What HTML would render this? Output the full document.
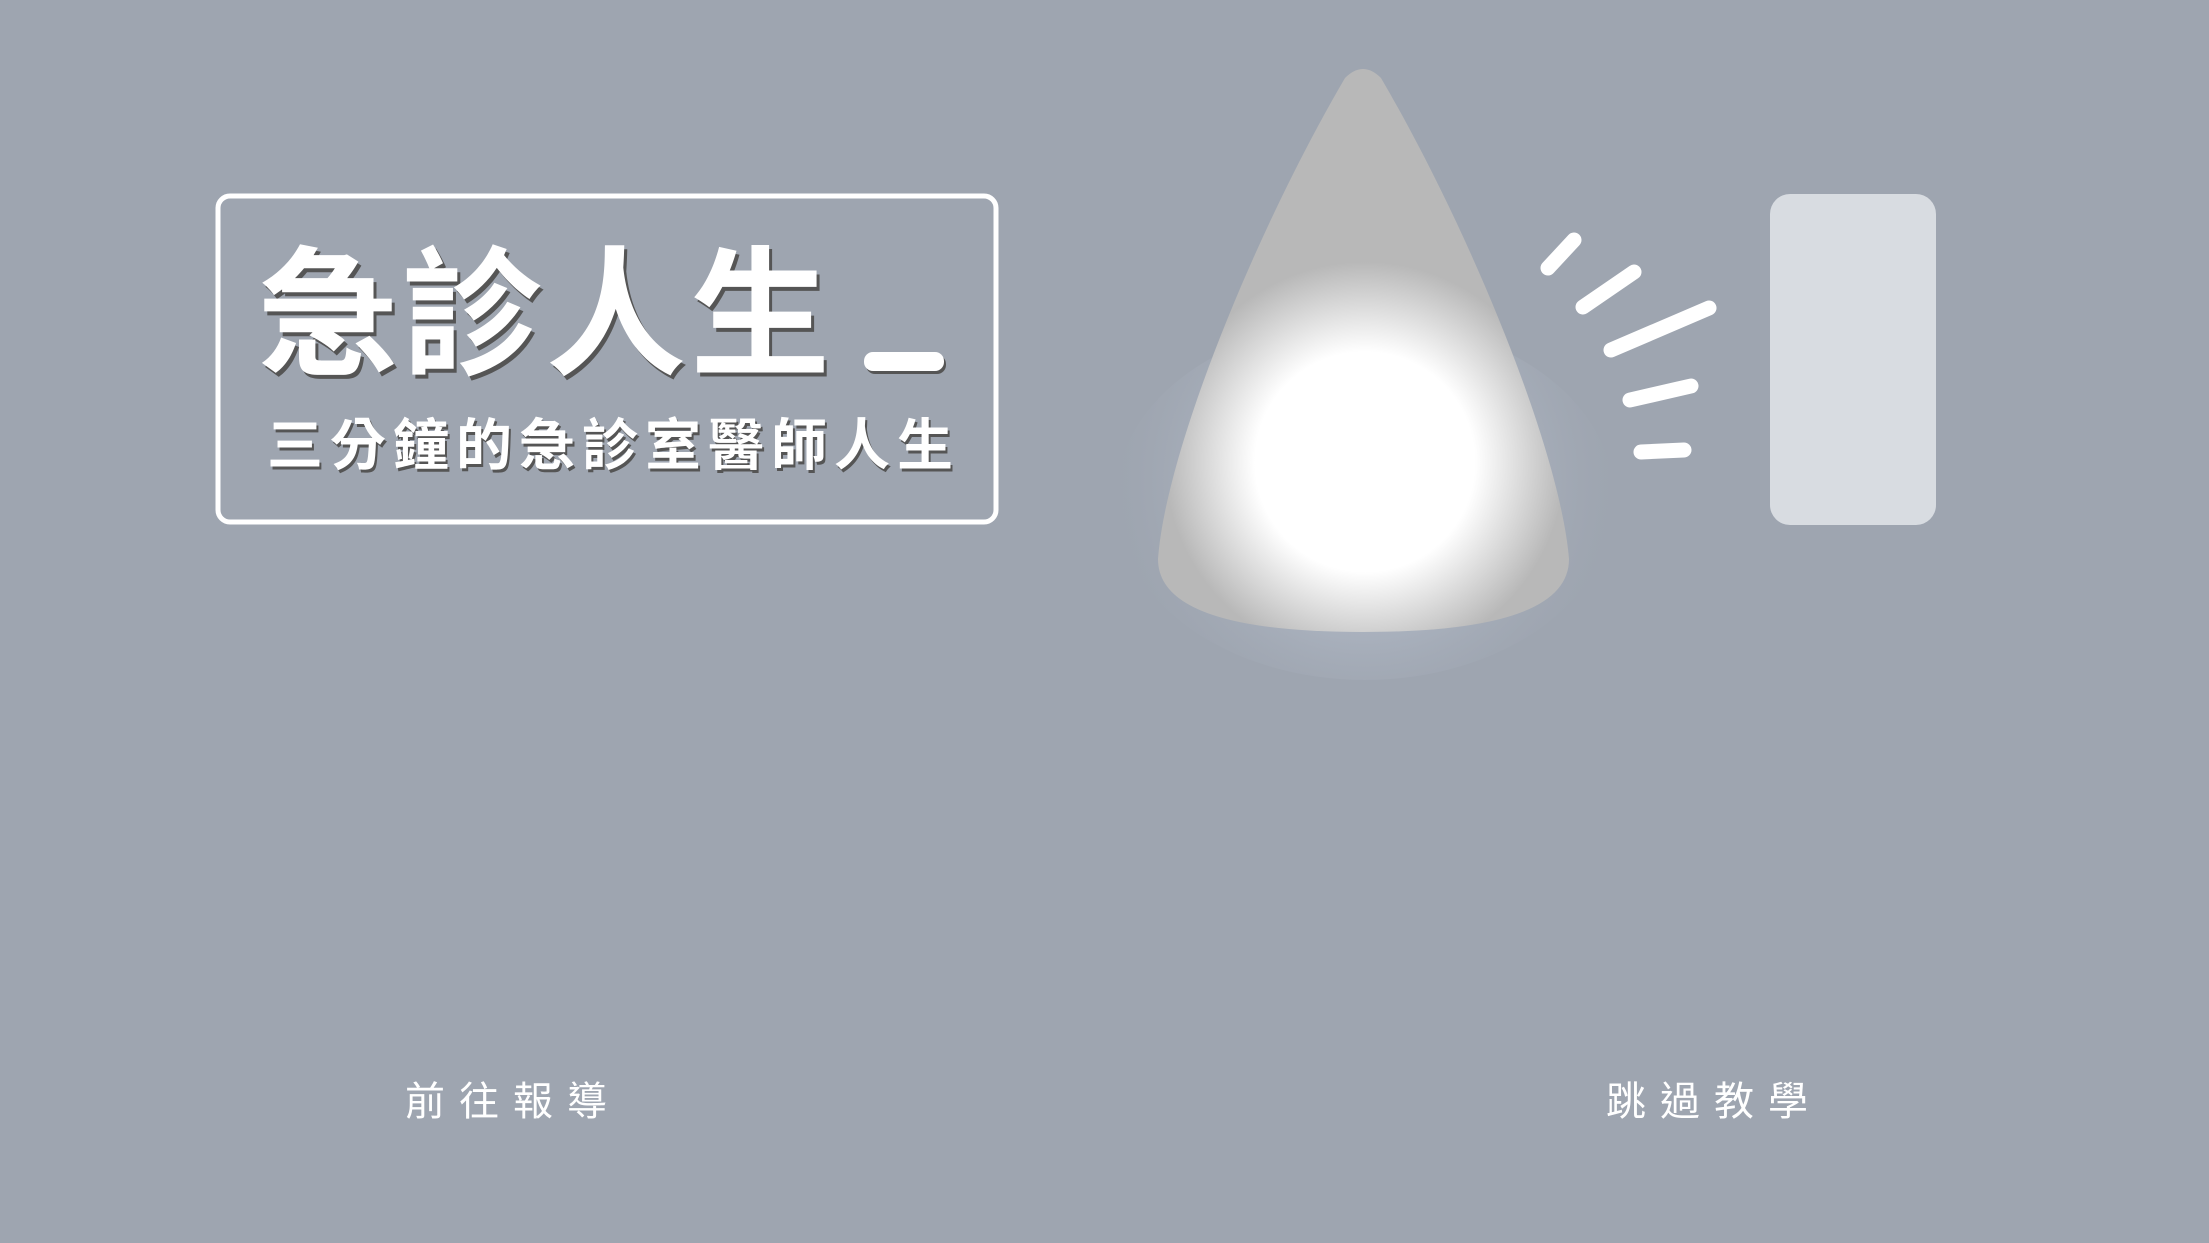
<!DOCTYPE html>
<html><head><meta charset="utf-8"><style>
html,body{margin:0;padding:0;}
body{width:2209px;height:1243px;background:#9ea5b0;position:relative;overflow:hidden;font-family:"Liberation Sans","Noto Sans CJK TC",sans-serif;}
.t{position:absolute;color:#fff;white-space:nowrap;line-height:1;}
</style></head><body>
<svg width="2209" height="1243" style="position:absolute;left:0;top:0">
<defs>
<radialGradient id="halo" cx="1365" cy="480" r="260" gradientUnits="userSpaceOnUse">
<stop offset="0" stop-color="#c0c7d2" stop-opacity="1"/>
<stop offset="0.6" stop-color="#b0b8c5" stop-opacity="0.6"/>
<stop offset="1" stop-color="#9ea5b0" stop-opacity="0"/>
</radialGradient>
<radialGradient id="glow" cx="1365" cy="462" r="200" gradientUnits="userSpaceOnUse">
<stop offset="0" stop-color="#fff"/>
<stop offset="0.55" stop-color="#fff"/>
<stop offset="1" stop-color="#b8b8b8"/>
</radialGradient>
</defs>
<ellipse cx="1365" cy="500" rx="250" ry="180" fill="url(#halo)"/>
<path d="M1345,78 Q1363,60 1381,78 C1470,230 1560,450 1569,559 Q1569,632 1363,632 Q1158,632 1158,559 C1166,450 1256,230 1345,78 Z" fill="url(#glow)"/>
<g stroke="#fff" stroke-width="15" stroke-linecap="round">
<line x1="1574" y1="240" x2="1548" y2="268"/>
<line x1="1634" y1="272" x2="1583" y2="307"/>
<line x1="1709" y1="308" x2="1611" y2="350"/>
<line x1="1691" y1="386" x2="1630" y2="400"/>
<line x1="1684" y1="450" x2="1641" y2="452"/>
</g>
<rect x="1770" y="194" width="166" height="331" rx="20" fill="#d8dce1"/>
<rect x="218" y="196" width="778" height="326" rx="12" fill="none" stroke="#fff" stroke-width="5"/>
<rect x="866" y="355" width="80" height="19" rx="9" fill="#555"/>
<rect x="864" y="352" width="80" height="19" rx="9" fill="#fff"/>
</svg>
<div class="t" style="left:258px;top:246px;font-size:140px;font-weight:bold;letter-spacing:4px;text-shadow:3px 4px 0 #555;">急診人生</div>
<div class="t" style="left:267px;top:418px;font-size:56px;font-weight:bold;letter-spacing:7px;text-shadow:2px 3px 0 #555;">三分鐘的急診室醫師人生</div>
<div class="t" style="left:405px;top:1082px;font-size:40px;letter-spacing:14px;cursor:pointer;">前往報導</div>
<div class="t" style="left:1606px;top:1082px;font-size:40px;letter-spacing:14px;cursor:pointer;">跳過教學</div>
</body></html>
